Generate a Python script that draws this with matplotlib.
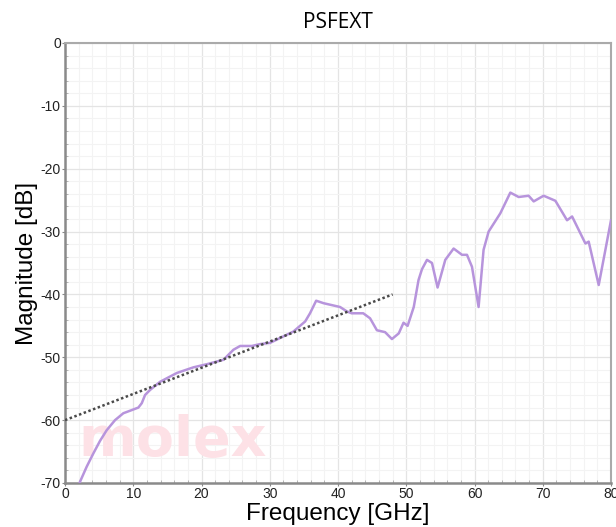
import numpy as np
import matplotlib.pyplot as plt
from matplotlib.ticker import MultipleLocator

plt.rcParams['font.family'] = ['Liberation Sans', 'DejaVu Sans']
plt.rcParams['axes.unicode_minus'] = False

# PSFEXT curve
freq = [1.5, 2.2, 3.18, 4.15, 5.13, 6.11, 7.33, 8.55, 9.78, 10.75, 11.25, 11.73,
        12.46, 13.93, 16.38, 18.81, 20.78, 23.21, 24.68, 25.66, 27.38, 28.59,
        30.06, 33.47, 35.19, 35.9, 36.8, 37.9, 40.3, 41.3, 42.0, 43.7, 44.7,
        45.7, 46.9, 47.9, 48.9, 49.6, 50.2, 51.1, 51.8, 52.3, 53.04, 53.77,
        54.59, 55.72, 56.94, 58.17, 58.90, 59.63, 60.60, 61.33, 62.07, 63.78,
        65.25, 66.47, 67.93, 68.67, 70.13, 71.85, 73.56, 74.30, 76.25, 76.73,
        78.20, 79.18, 80.0]
mag = [-72.0, -69.8, -67.4, -65.3, -63.3, -61.6, -60.0, -58.9, -58.4, -58.0,
       -57.3, -56.0, -55.2, -53.9, -52.5, -51.6, -51.1, -50.4, -48.8, -48.2,
       -48.2, -47.9, -47.7, -45.9, -44.3, -43.0, -41.0, -41.4, -42.0, -42.7,
       -43.0, -43.0, -43.8, -45.7, -46.0, -47.1, -46.2, -44.5, -45.0, -42.0,
       -37.7, -36.0, -34.5, -35.0, -38.9, -34.5, -32.7, -33.7, -33.7, -35.6,
       -42.0, -32.9, -30.0, -27.1, -23.8, -24.5, -24.3, -25.2, -24.3, -25.1,
       -28.2, -27.6, -31.9, -31.6, -38.5, -32.9, -28.2]

# limit line
limit_freq = [0, 48]
limit_mag = [-60, -40]

fig = plt.figure(figsize=(6.16, 5.27), dpi=100)
ax = fig.add_axes([65 / 616, 1 - 483 / 527, 546 / 616, 440 / 527])

ax.plot(freq, mag, color='#b794dc', lw=1.8, zorder=3)
ax.plot(limit_freq, limit_mag, color='#4a4a4a', lw=1.8, ls=(0, (1, 1)), zorder=4)

ax.set_xlim(0, 80)
ax.set_ylim(-70, 0)
ax.xaxis.set_major_locator(MultipleLocator(10))
ax.xaxis.set_minor_locator(MultipleLocator(2))
ax.yaxis.set_major_locator(MultipleLocator(10))
ax.yaxis.set_minor_locator(MultipleLocator(2))
ax.grid(which='major', color='#e4e4e4', lw=0.9)
ax.grid(which='minor', color='#f3f3f3', lw=0.8)
ax.set_axisbelow(True)

ax.tick_params(which='major', direction='out', length=2, color='#888888',
               labelsize=10, labelcolor='#222222', pad=1)
ax.tick_params(which='minor', direction='in', length=2, color='#aaaaaa')
for s in ['left', 'bottom']:
    ax.spines[s].set_color('#8a8a8a')
    ax.spines[s].set_linewidth(1.8)
for s in ['top', 'right']:
    ax.spines[s].set_color('#aaaaaa')
    ax.spines[s].set_linewidth(1.5)

ax.set_title('PSFEXT', fontsize=15, pad=11, family=['Open Sans', 'DejaVu Sans'])
ax.set_xlabel('Frequency [GHz]', fontsize=17.5, labelpad=1)
ax.set_ylabel('Magnitude [dB]', fontsize=17.5, labelpad=2)

# watermark
ax.text(78 / 616, 1 - 456 / 527, 'molex', transform=fig.transFigure,
        fontsize=40, fontweight='bold', color='#fde1e6', va='baseline',
        family='DejaVu Sans', zorder=1)

fig.savefig('out.png', dpi=100)
